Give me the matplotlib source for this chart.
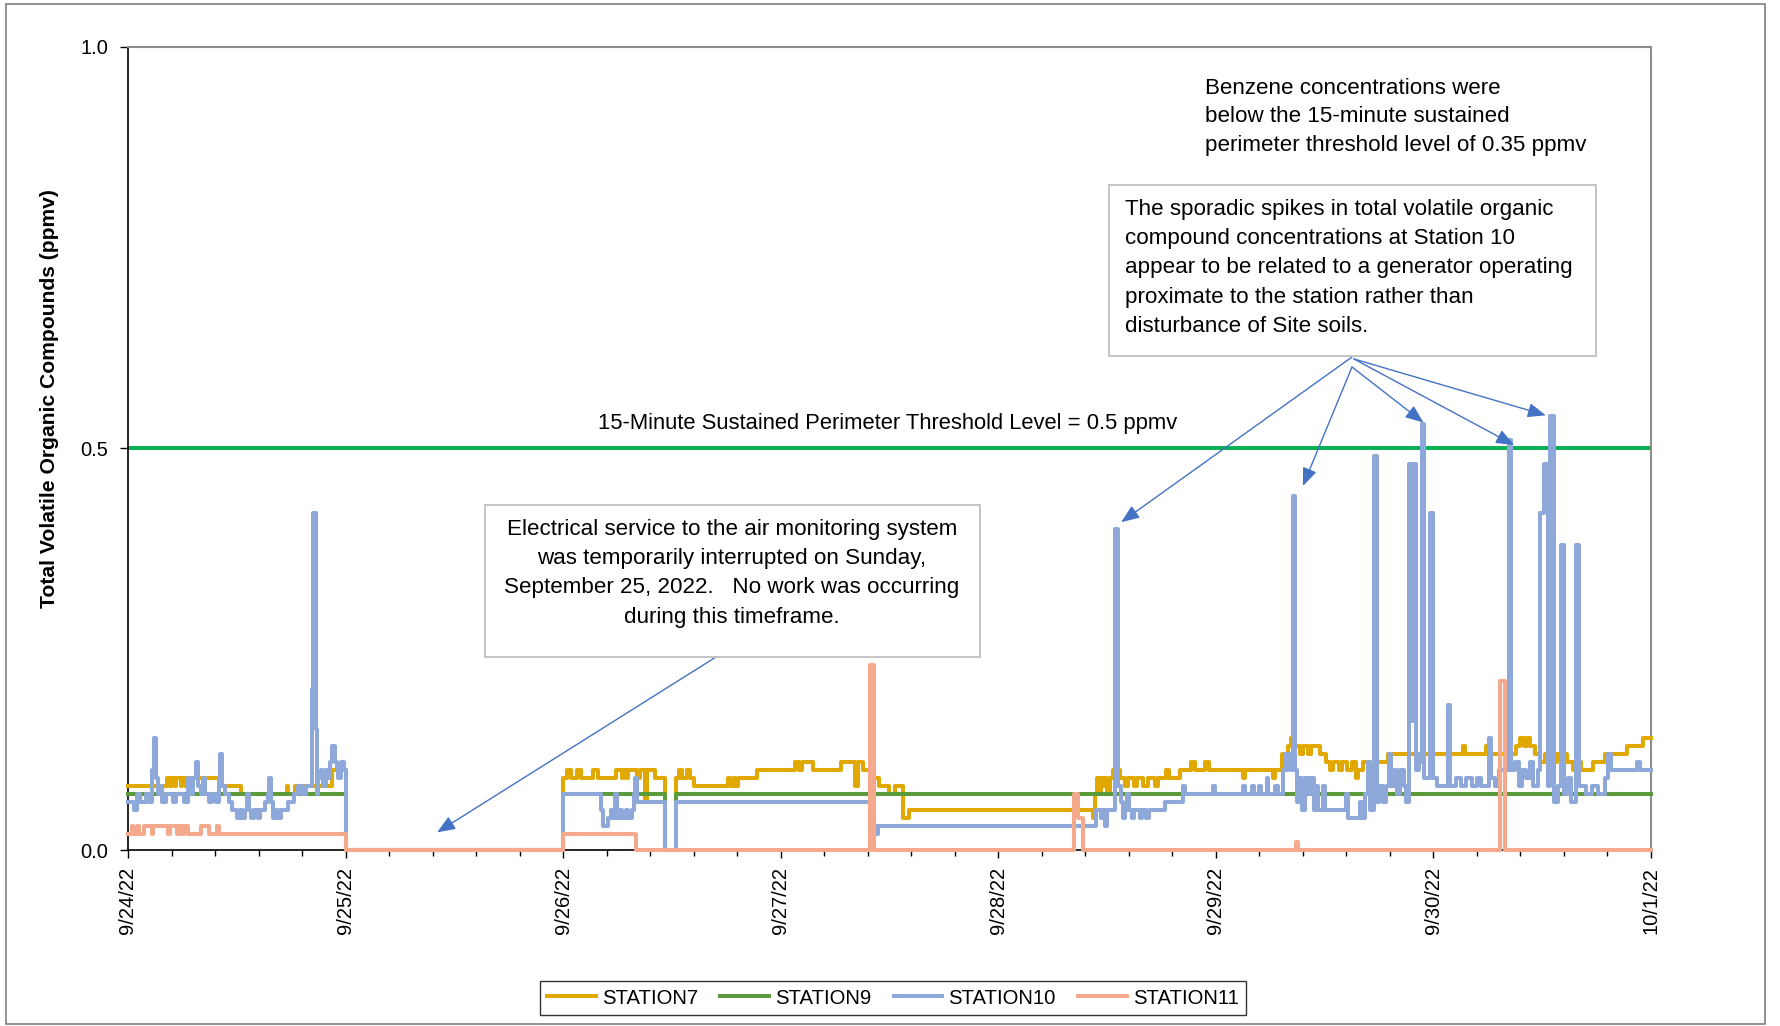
import datetime as dt
import matplotlib
matplotlib.use('Agg')
import matplotlib.pyplot as plt
import matplotlib.dates as mdates
from matplotlib.patches import Rectangle
from matplotlib.lines import Line2D

plt.rcParams['font.family'] = ['Liberation Sans', 'DejaVu Sans']

# ---------------- data ----------------
start = dt.datetime(2022, 9, 24)
n_days = 7
station_names = ['STATION7', 'STATION9', 'STATION10', 'STATION11']
station_colors = ['#E0A800', '#5B9B3B', '#8FA8DA', '#F4A88C']
x_tick_labels = ['9/24/22', '9/25/22', '9/26/22', '9/27/22', '9/28/22', '9/29/22', '9/30/22', '10/1/22']
y_ticks = [0.0, 0.5, 1.0]
threshold = 0.5

# step breakpoints: (hours since 9/24/22 00:00, ppmv)
station7 = [(0, 0.08), (4.3, 0.09), (4.6, 0.08), (4.8, 0.09), (5.2, 0.08), (5.3, 0.09), (5.9, 0.08), (6.0, 0.09),
            (6.3, 0.08), (6.4, 0.09), (10.1, 0.08), (12.5, 0.07), (17.5, 0.08), (17.7, 0.07), (18.4, 0.08),
            (22.5, 0.10), (24.0, 0.0),
            (48.0, 0.09), (48.4, 0.10), (48.9, 0.09), (49.5, 0.10), (50.0, 0.09), (51.3, 0.10), (51.8, 0.09),
            (53.8, 0.10), (54.5, 0.09), (54.7, 0.10), (55.0, 0.09), (55.2, 0.10), (56.1, 0.09), (56.5, 0.10),
            (57.0, 0.06), (57.2, 0.10), (58.1, 0.09), (59.2, 0.0),
            (60.5, 0.09), (60.8, 0.10), (61.1, 0.09), (61.7, 0.10), (62.0, 0.09), (62.4, 0.08), (66.2, 0.09),
            (66.5, 0.08), (66.8, 0.09), (67.0, 0.08), (67.3, 0.09), (69.4, 0.10), (73.6, 0.11), (74.0, 0.10),
            (74.3, 0.11), (75.6, 0.10), (78.7, 0.11), (80.2, 0.08), (80.5, 0.11), (81.1, 0.10), (82.2, 0.09),
            (82.8, 0.08), (83.9, 0.07), (84.6, 0.08), (85.5, 0.04), (86.1, 0.05), (106.5, 0.04), (106.7, 0.07),
            (106.9, 0.09), (107.1, 0.07), (107.3, 0.09), (107.5, 0.08), (107.8, 0.09), (108.0, 0.07),
            (108.3, 0.09), (108.7, 0.10), (109.4, 0.09), (110.0, 0.08), (110.3, 0.09), (111.0, 0.08),
            (111.3, 0.09), (112.0, 0.08), (112.5, 0.09), (113.3, 0.08), (113.6, 0.09), (114.5, 0.10),
            (114.8, 0.09), (116.0, 0.10), (117.3, 0.11), (117.7, 0.10), (118.8, 0.11), (119.2, 0.10),
            (123.0, 0.09), (123.2, 0.10), (126.3, 0.09), (126.5, 0.10), (127.3, 0.12), (128.0, 0.13),
            (128.3, 0.14), (128.6, 0.13), (129.3, 0.12), (129.6, 0.13), (130.2, 0.12), (130.5, 0.13),
            (131.5, 0.12), (132.2, 0.11), (132.6, 0.10), (132.9, 0.11), (133.6, 0.10), (133.9, 0.11),
            (134.5, 0.10), (135.0, 0.11), (135.5, 0.09), (135.7, 0.10), (136.2, 0.11), (137.0, 0.10),
            (137.6, 0.11), (139.0, 0.12), (142.1, 0.11), (142.9, 0.12), (147.3, 0.13), (147.5, 0.12),
            (149.8, 0.13), (150.2, 0.12), (153.1, 0.13), (153.5, 0.14), (154.0, 0.13), (154.3, 0.14),
            (154.6, 0.13), (155.2, 0.12), (155.8, 0.11), (156.3, 0.12), (157.2, 0.11), (157.6, 0.12),
            (158.7, 0.11), (159.4, 0.10), (159.7, 0.11), (160.3, 0.10), (161.6, 0.11), (162.9, 0.12),
            (165.3, 0.13), (167.1, 0.14), (168.0, 0.14)]

station9 = [(0, 0.07), (24.0, 0.0), (48.0, 0.07), (59.2, 0.0), (60.5, 0.07), (168.0, 0.07)]

station10 = [(0.0, 0.06), (0.7, 0.05), (1.0, 0.07), (1.3, 0.06), (2.0, 0.07), (2.3, 0.06), (2.6, 0.10),
             (2.9, 0.14), (3.1, 0.09), (3.3, 0.07), (3.6, 0.08), (3.8, 0.06), (4.2, 0.07), (5.0, 0.06),
             (5.3, 0.07), (6.2, 0.06), (6.6, 0.09), (6.8, 0.07), (7.2, 0.09), (7.5, 0.11), (7.7, 0.08),
             (8.0, 0.07), (8.3, 0.09), (8.5, 0.07), (8.9, 0.06), (9.3, 0.07), (9.7, 0.06), (10.0, 0.09),
             (10.2, 0.12), (10.4, 0.08), (10.7, 0.07), (11.1, 0.06), (11.5, 0.05), (12.0, 0.04), (12.3, 0.05),
             (12.6, 0.04), (12.9, 0.05), (13.1, 0.07), (13.3, 0.05), (13.6, 0.04), (13.9, 0.05), (14.3, 0.04),
             (14.6, 0.05), (15.1, 0.06), (15.4, 0.07), (15.6, 0.09), (15.8, 0.06), (16.0, 0.04), (16.3, 0.05),
             (16.6, 0.04), (16.9, 0.05), (17.6, 0.06), (18.3, 0.07), (18.8, 0.08), (19.2, 0.07), (19.6, 0.08),
             (20.3, 0.20), (20.45, 0.42), (20.7, 0.15), (20.85, 0.07), (21.0, 0.09), (21.3, 0.10), (21.5, 0.08),
             (21.8, 0.10), (22.1, 0.09), (22.3, 0.11), (22.5, 0.13), (22.8, 0.11), (23.0, 0.10), (23.2, 0.09),
             (23.5, 0.11), (23.8, 0.10), (24.0, 0.0),
             (48.0, 0.07), (52.2, 0.05), (52.4, 0.03), (53.0, 0.04), (53.3, 0.05), (53.5, 0.04), (53.7, 0.07),
             (53.9, 0.04), (54.3, 0.05), (54.5, 0.04), (54.9, 0.05), (55.2, 0.04), (55.6, 0.05), (55.8, 0.07),
             (55.95, 0.09), (56.1, 0.06), (59.2, 0.0), (60.5, 0.06), (81.8, 0.03), (82.5, 0.02), (82.7, 0.03),
             (106.8, 0.05), (107.3, 0.04), (107.5, 0.05), (107.8, 0.03), (108.0, 0.05), (108.9, 0.40),
             (109.2, 0.08), (109.5, 0.06), (109.8, 0.04), (110.0, 0.05), (110.2, 0.07), (110.4, 0.05),
             (110.7, 0.04), (111.0, 0.05), (111.6, 0.04), (111.9, 0.05), (112.3, 0.04), (112.6, 0.05),
             (114.4, 0.06), (116.4, 0.08), (116.6, 0.07), (119.7, 0.08), (119.9, 0.07), (123.0, 0.08),
             (123.2, 0.07), (124.0, 0.08), (124.2, 0.07), (124.8, 0.08), (125.0, 0.07), (125.6, 0.09),
             (125.8, 0.07), (126.5, 0.08), (126.9, 0.07), (127.4, 0.10), (127.6, 0.12), (127.8, 0.10),
             (128.0, 0.12), (128.3, 0.10), (128.5, 0.44), (128.75, 0.10), (128.9, 0.06), (129.2, 0.09),
             (129.5, 0.05), (129.8, 0.09), (130.3, 0.07), (130.5, 0.09), (130.8, 0.05), (131.1, 0.08),
             (131.3, 0.05), (131.8, 0.08), (132.0, 0.05), (134.4, 0.07), (134.6, 0.04), (135.9, 0.06),
             (136.1, 0.04), (136.5, 0.07), (136.8, 0.11), (137.0, 0.05), (137.45, 0.49), (137.75, 0.06),
             (138.0, 0.08), (138.4, 0.06), (138.8, 0.08), (139.1, 0.12), (139.3, 0.08), (139.6, 0.10),
             (140.0, 0.07), (140.3, 0.10), (140.7, 0.08), (141.0, 0.06), (141.3, 0.48), (141.6, 0.16),
             (141.8, 0.48), (142.1, 0.10), (142.4, 0.12), (142.7, 0.53), (143.0, 0.09), (143.6, 0.42),
             (143.9, 0.09), (144.4, 0.08), (145.6, 0.18), (145.8, 0.08), (146.5, 0.09), (147.0, 0.08),
             (147.6, 0.09), (148.2, 0.08), (148.8, 0.09), (149.3, 0.08), (150.1, 0.14), (150.4, 0.09),
             (150.8, 0.08), (151.2, 0.10), (152.3, 0.51), (152.6, 0.10), (153.0, 0.11), (153.4, 0.08),
             (153.8, 0.10), (154.2, 0.09), (154.6, 0.11), (155.0, 0.08), (155.5, 0.10), (155.8, 0.42),
             (156.2, 0.48), (156.6, 0.08), (156.9, 0.54), (157.3, 0.06), (157.7, 0.08), (158.1, 0.38),
             (158.4, 0.07), (158.8, 0.09), (159.2, 0.06), (159.7, 0.38), (160.1, 0.08), (160.8, 0.07),
             (161.5, 0.08), (162.2, 0.07), (162.9, 0.09), (163.3, 0.12), (163.6, 0.10), (166.5, 0.11),
             (166.8, 0.10), (168.0, 0.10)]

station11 = [(0, 0.02), (0.4, 0.03), (0.6, 0.02), (1.0, 0.03), (1.2, 0.02), (1.8, 0.03), (2.6, 0.02), (2.8, 0.03),
             (4.4, 0.02), (4.6, 0.03), (5.4, 0.02), (5.6, 0.03), (6.0, 0.02), (6.2, 0.03), (6.6, 0.02),
             (8.1, 0.03), (8.9, 0.02), (9.8, 0.03), (10.0, 0.02), (24.0, 0.0), (48.0, 0.02), (56.0, 0.0),
             (81.8, 0.23), (82.3, 0.0), (104.4, 0.07), (104.8, 0.04), (105.3, 0.0), (128.8, 0.01),
             (129.1, 0.0), (151.35, 0.21), (151.85, 0.0), (168.0, 0.0)]

threshold_label = '15-Minute Sustained Perimeter Threshold Level = 0.5 ppmv'
benzene_note = ['Benzene concentrations were',
                'below the 15-minute sustained',
                'perimeter threshold level of 0.35 ppmv']
spike_note = ['The sporadic spikes in total volatile organic',
              'compound concentrations at Station 10',
              'appear to be related to a generator operating',
              'proximate to the station rather than',
              'disturbance of Site soils.']
power_note = ['Electrical service to the air monitoring system',
              'was temporarily interrupted on Sunday,',
              'September 25, 2022.   No work was occurring',
              'during this timeframe.']
# arrow tips (hours, ppmv)
spike_arrow_tips = [(109.56, 0.408), (129.6, 0.453), (142.9, 0.532), (152.9, 0.504), (156.4, 0.541)]
power_arrow_tip = (34.1, 0.022)

# ---------------- figure ----------------
W, H = 1780, 1026
fig = plt.figure(figsize=(W / 100, H / 100), dpi=100)


def fx(px):
    return px / W


def fy(py):
    return 1 - py / H


ax = fig.add_axes([fx(128), fy(850), fx(1651) - fx(128), fy(46.5) - fy(850)])


def to_time(h):
    return mdates.date2num(start + dt.timedelta(hours=h))


series = [station7, station9, station10, station11]
LW = 2.9
ax.axhline(threshold, color='#00B050', lw=2.8, zorder=1)
for data, name, col in zip(series, station_names, station_colors):
    xs = [to_time(h) for h, v in data]
    ys = [v for h, v in data]
    ax.plot(xs, ys, drawstyle='steps-post', color=col, lw=LW, label=name, zorder=3, clip_on=False)

ax.set_xlim(to_time(0), to_time(24 * n_days))
ax.set_ylim(0, 1.0)
major = [to_time(24 * d) for d in range(n_days + 1)]
minor = [to_time(24 * d + 4.8 * k) for d in range(n_days) for k in range(1, 5)]
ax.set_xticks(major)
ax.set_xticklabels(x_tick_labels, rotation=90, fontsize=14.5)
ax.set_xticks(minor, minor=True)
ax.set_yticks(y_ticks)
ax.set_yticklabels(['%.1f' % v for v in y_ticks], fontsize=14.5)
ax.tick_params(axis='x', which='major', direction='out', length=6, width=1, pad=6)
ax.tick_params(axis='x', which='minor', direction='out', length=4, width=1)
ax.tick_params(axis='y', which='major', direction='out', length=6, width=1, pad=8)
for s in ['left', 'bottom']:
    ax.spines[s].set_color('black')
    ax.spines[s].set_linewidth(1.2)
for s in ['top', 'right']:
    ax.spines[s].set_color('#8C8C8C')
    ax.spines[s].set_linewidth(1.5)

fig.text(fx(50), fy(399), 'Total Volatile Organic Compounds (ppmv)', rotation=90,
         fontsize=15.2, fontweight='bold', ha='center', va='center')

fig.text(fx(888), fy(423), threshold_label, fontsize=15.8, ha='center', va='center')

NOTE_FS = 16.1
# benzene note
for i, line in enumerate(benzene_note):
    fig.text(fx(1205), fy(88 + 29 * i), line, fontsize=NOTE_FS, ha='left', va='center')

# boxes
box_col = '#BFBFBF'
fig.add_artist(Rectangle((fx(1109), fy(356)), fx(1596) - fx(1109), fy(185) - fy(356),
                         transform=fig.transFigure, fill=False, edgecolor=box_col, lw=1.3))
for i, line in enumerate(spike_note):
    fig.text(fx(1125), fy(209 + 29.5 * i), line, fontsize=NOTE_FS, ha='left', va='center')

fig.add_artist(Rectangle((fx(485), fy(657)), fx(980) - fx(485), fy(505) - fy(657),
                         transform=fig.transFigure, fill=False, edgecolor=box_col, lw=1.3))
for i, line in enumerate(power_note):
    fig.text(fx(732), fy(529 + 29.5 * i), line, fontsize=NOTE_FS, ha='center', va='center')

arrow_kw = dict(arrowstyle='-|>,head_length=0.55,head_width=0.22', color='#4472C4', lw=1.0,
                shrinkA=0, shrinkB=0, mutation_scale=20)
origins = [(1352, 357), (1352, 367), (1352, 367), (1354, 359), (1354, 359)]
for (h, v), (ox, oy) in zip(spike_arrow_tips, origins):
    ax.annotate('', xy=(to_time(h), v), xycoords='data',
                xytext=(fx(ox), fy(oy)), textcoords='figure fraction', arrowprops=arrow_kw)
ax.annotate('', xy=(to_time(power_arrow_tip[0]), power_arrow_tip[1]), xycoords='data',
            xytext=(fx(716), fy(657)), textcoords='figure fraction', arrowprops=arrow_kw)

# legend
handles = [Line2D([0], [0], color=c, lw=LW) for c in station_colors]
leg = fig.legend(handles, station_names, loc='center', bbox_to_anchor=(fx(893), fy(998)), ncol=4,
                 fontsize=14.6, frameon=True, fancybox=False, edgecolor='black', handlelength=2.4,
                 columnspacing=1.1, handletextpad=0.3, borderpad=0.35)
leg.get_frame().set_linewidth(1.0)

# outer chart border
fig.add_artist(Rectangle((fx(6), fy(1024)), fx(1765) - fx(6), fy(4) - fy(1024),
                         transform=fig.transFigure, fill=False, edgecolor='#7F7F7F', lw=1.2))

fig.savefig('out.png', dpi=100)
